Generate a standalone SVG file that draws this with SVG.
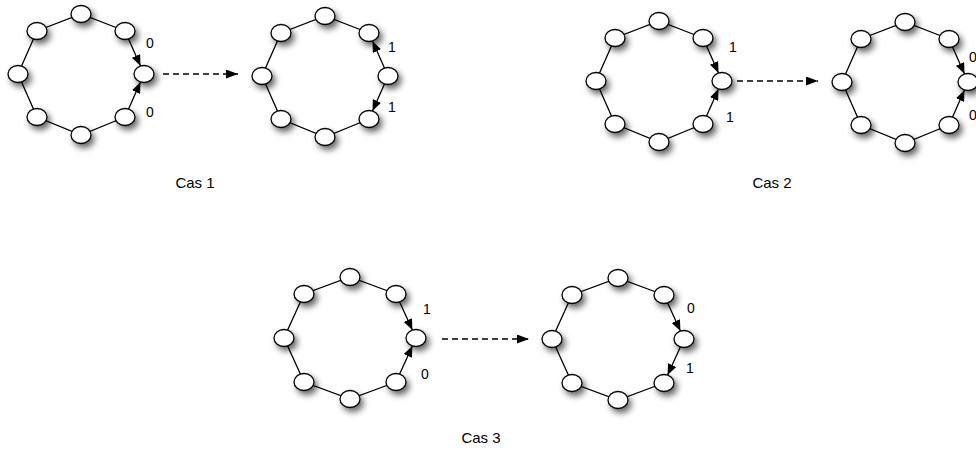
<svg xmlns="http://www.w3.org/2000/svg" width="976" height="451" viewBox="0 0 976 451">
<defs>
<filter id="sh" x="-100%" y="-100%" width="300%" height="300%">
<feDropShadow dx="3" dy="4" stdDeviation="3" flood-color="#000" flood-opacity="0.6"/>
</filter>
<marker id="ah" viewBox="0 0 11 9" refX="11" refY="4.5" markerWidth="11" markerHeight="9" markerUnits="userSpaceOnUse" orient="auto">
<path d="M0,0 L11,4.5 L0,9 z" fill="#000"/>
</marker>
<marker id="dah" viewBox="0 0 12 9" refX="12" refY="4.5" markerWidth="12" markerHeight="9" markerUnits="userSpaceOnUse" orient="auto">
<path d="M0,0 L12,4.5 L0,9 z" fill="#000"/>
</marker>
</defs>
<style>
.e{fill:none;stroke:#000;stroke-width:1.3}
.a{fill:none;stroke:#000;stroke-width:1.3;marker-end:url(#ah)}
.d{fill:none;stroke:#000;stroke-width:1.3;stroke-dasharray:6,4;marker-end:url(#dah)}
.n ellipse{fill:#fff;stroke:#000;stroke-width:1.3;filter:url(#sh)}
.l{font-family:"Liberation Sans",Arial,sans-serif;font-size:14px;fill:#000;text-anchor:middle}
.t{font-family:"Liberation Sans",Arial,sans-serif;font-size:15px;fill:#000;text-anchor:middle}
</style>
<g id="connectors">
<polyline class="e" points="125,117 81,135 37,117 18,74 37,31 81,14 125,31"/>
<path class="a" d="M125,31 L140.5,66"/>
<path class="a" d="M125,117 L140.5,82"/>
<polyline class="e" points="369,119 325,137 281,119 262,76 281,33 325,16 369,33"/>
<path class="a" d="M388,76 L372.5,41"/>
<path class="a" d="M388,76 L372.5,111"/>
<polyline class="e" points="703,124 659,142 615,124 596,81 615,38 659,21 703,38"/>
<path class="a" d="M703,38 L718.5,73"/>
<path class="a" d="M703,124 L718.5,89"/>
<polyline class="e" points="949,125 905,143 861,125 842,82 861,39 905,22 949,39"/>
<path class="a" d="M949,39 L964.5,74"/>
<path class="a" d="M949,125 L964.5,90"/>
<polyline class="e" points="396,382 350,399 304,382 284,338 304,294 350,277 396,294"/>
<path class="a" d="M396,294 L412.4,330.1"/>
<path class="a" d="M396,382 L412.4,345.9"/>
<polyline class="e" points="664,383 618,400 572,383 552,339 572,295 618,278 664,295"/>
<path class="a" d="M664,295 L680.4,331.1"/>
<path class="a" d="M684,339 L667.6,375.1"/>
<path class="d" d="M163,74 L238,74"/>
<path class="d" d="M737,81 L818,81"/>
<path class="d" d="M442,339 L529,339"/>
</g>
<g id="ring1" class="n">
<ellipse cx="81" cy="14" rx="10" ry="8.5"/><ellipse cx="125" cy="31" rx="10" ry="8.5"/><ellipse cx="144" cy="74" rx="10" ry="8.5"/><ellipse cx="125" cy="117" rx="10" ry="8.5"/><ellipse cx="81" cy="135" rx="10" ry="8.5"/><ellipse cx="37" cy="117" rx="10" ry="8.5"/><ellipse cx="18" cy="74" rx="10" ry="8.5"/><ellipse cx="37" cy="31" rx="10" ry="8.5"/>
</g>
<g id="ring2" class="n">
<ellipse cx="325" cy="16" rx="10" ry="8.5"/><ellipse cx="369" cy="33" rx="10" ry="8.5"/><ellipse cx="388" cy="76" rx="10" ry="8.5"/><ellipse cx="369" cy="119" rx="10" ry="8.5"/><ellipse cx="325" cy="137" rx="10" ry="8.5"/><ellipse cx="281" cy="119" rx="10" ry="8.5"/><ellipse cx="262" cy="76" rx="10" ry="8.5"/><ellipse cx="281" cy="33" rx="10" ry="8.5"/>
</g>
<g id="ring3" class="n">
<ellipse cx="659" cy="21" rx="10" ry="8.5"/><ellipse cx="703" cy="38" rx="10" ry="8.5"/><ellipse cx="722" cy="81" rx="10" ry="8.5"/><ellipse cx="703" cy="124" rx="10" ry="8.5"/><ellipse cx="659" cy="142" rx="10" ry="8.5"/><ellipse cx="615" cy="124" rx="10" ry="8.5"/><ellipse cx="596" cy="81" rx="10" ry="8.5"/><ellipse cx="615" cy="38" rx="10" ry="8.5"/>
</g>
<g id="ring4" class="n">
<ellipse cx="905" cy="22" rx="10" ry="8.5"/><ellipse cx="949" cy="39" rx="10" ry="8.5"/><ellipse cx="968" cy="82" rx="10" ry="8.5"/><ellipse cx="949" cy="125" rx="10" ry="8.5"/><ellipse cx="905" cy="143" rx="10" ry="8.5"/><ellipse cx="861" cy="125" rx="10" ry="8.5"/><ellipse cx="842" cy="82" rx="10" ry="8.5"/><ellipse cx="861" cy="39" rx="10" ry="8.5"/>
</g>
<g id="ring5" class="n">
<ellipse cx="350" cy="277" rx="10" ry="8.5"/><ellipse cx="396" cy="294" rx="10" ry="8.5"/><ellipse cx="416" cy="338" rx="10" ry="8.5"/><ellipse cx="396" cy="382" rx="10" ry="8.5"/><ellipse cx="350" cy="399" rx="10" ry="8.5"/><ellipse cx="304" cy="382" rx="10" ry="8.5"/><ellipse cx="284" cy="338" rx="10" ry="8.5"/><ellipse cx="304" cy="294" rx="10" ry="8.5"/>
</g>
<g id="ring6" class="n">
<ellipse cx="618" cy="278" rx="10" ry="8.5"/><ellipse cx="664" cy="295" rx="10" ry="8.5"/><ellipse cx="684" cy="339" rx="10" ry="8.5"/><ellipse cx="664" cy="383" rx="10" ry="8.5"/><ellipse cx="618" cy="400" rx="10" ry="8.5"/><ellipse cx="572" cy="383" rx="10" ry="8.5"/><ellipse cx="552" cy="339" rx="10" ry="8.5"/><ellipse cx="572" cy="295" rx="10" ry="8.5"/>
</g>
<g id="labels">
<text class="l" x="150" y="48">0</text><text class="l" x="150" y="117">0</text>
<text class="l" x="392" y="52">1</text><text class="l" x="392" y="112">1</text>
<text class="l" x="733" y="52">1</text><text class="l" x="730" y="122">1</text>
<text class="l" x="973" y="62">0</text><text class="l" x="973" y="120">0</text>
<text class="l" x="427" y="314">1</text><text class="l" x="425" y="379">0</text>
<text class="l" x="691" y="313">0</text><text class="l" x="690" y="373">1</text>
<text class="t" x="195" y="188">Cas 1</text>
<text class="t" x="772" y="188">Cas 2</text>
<text class="t" x="481" y="443">Cas 3</text>
</g>
</svg>
